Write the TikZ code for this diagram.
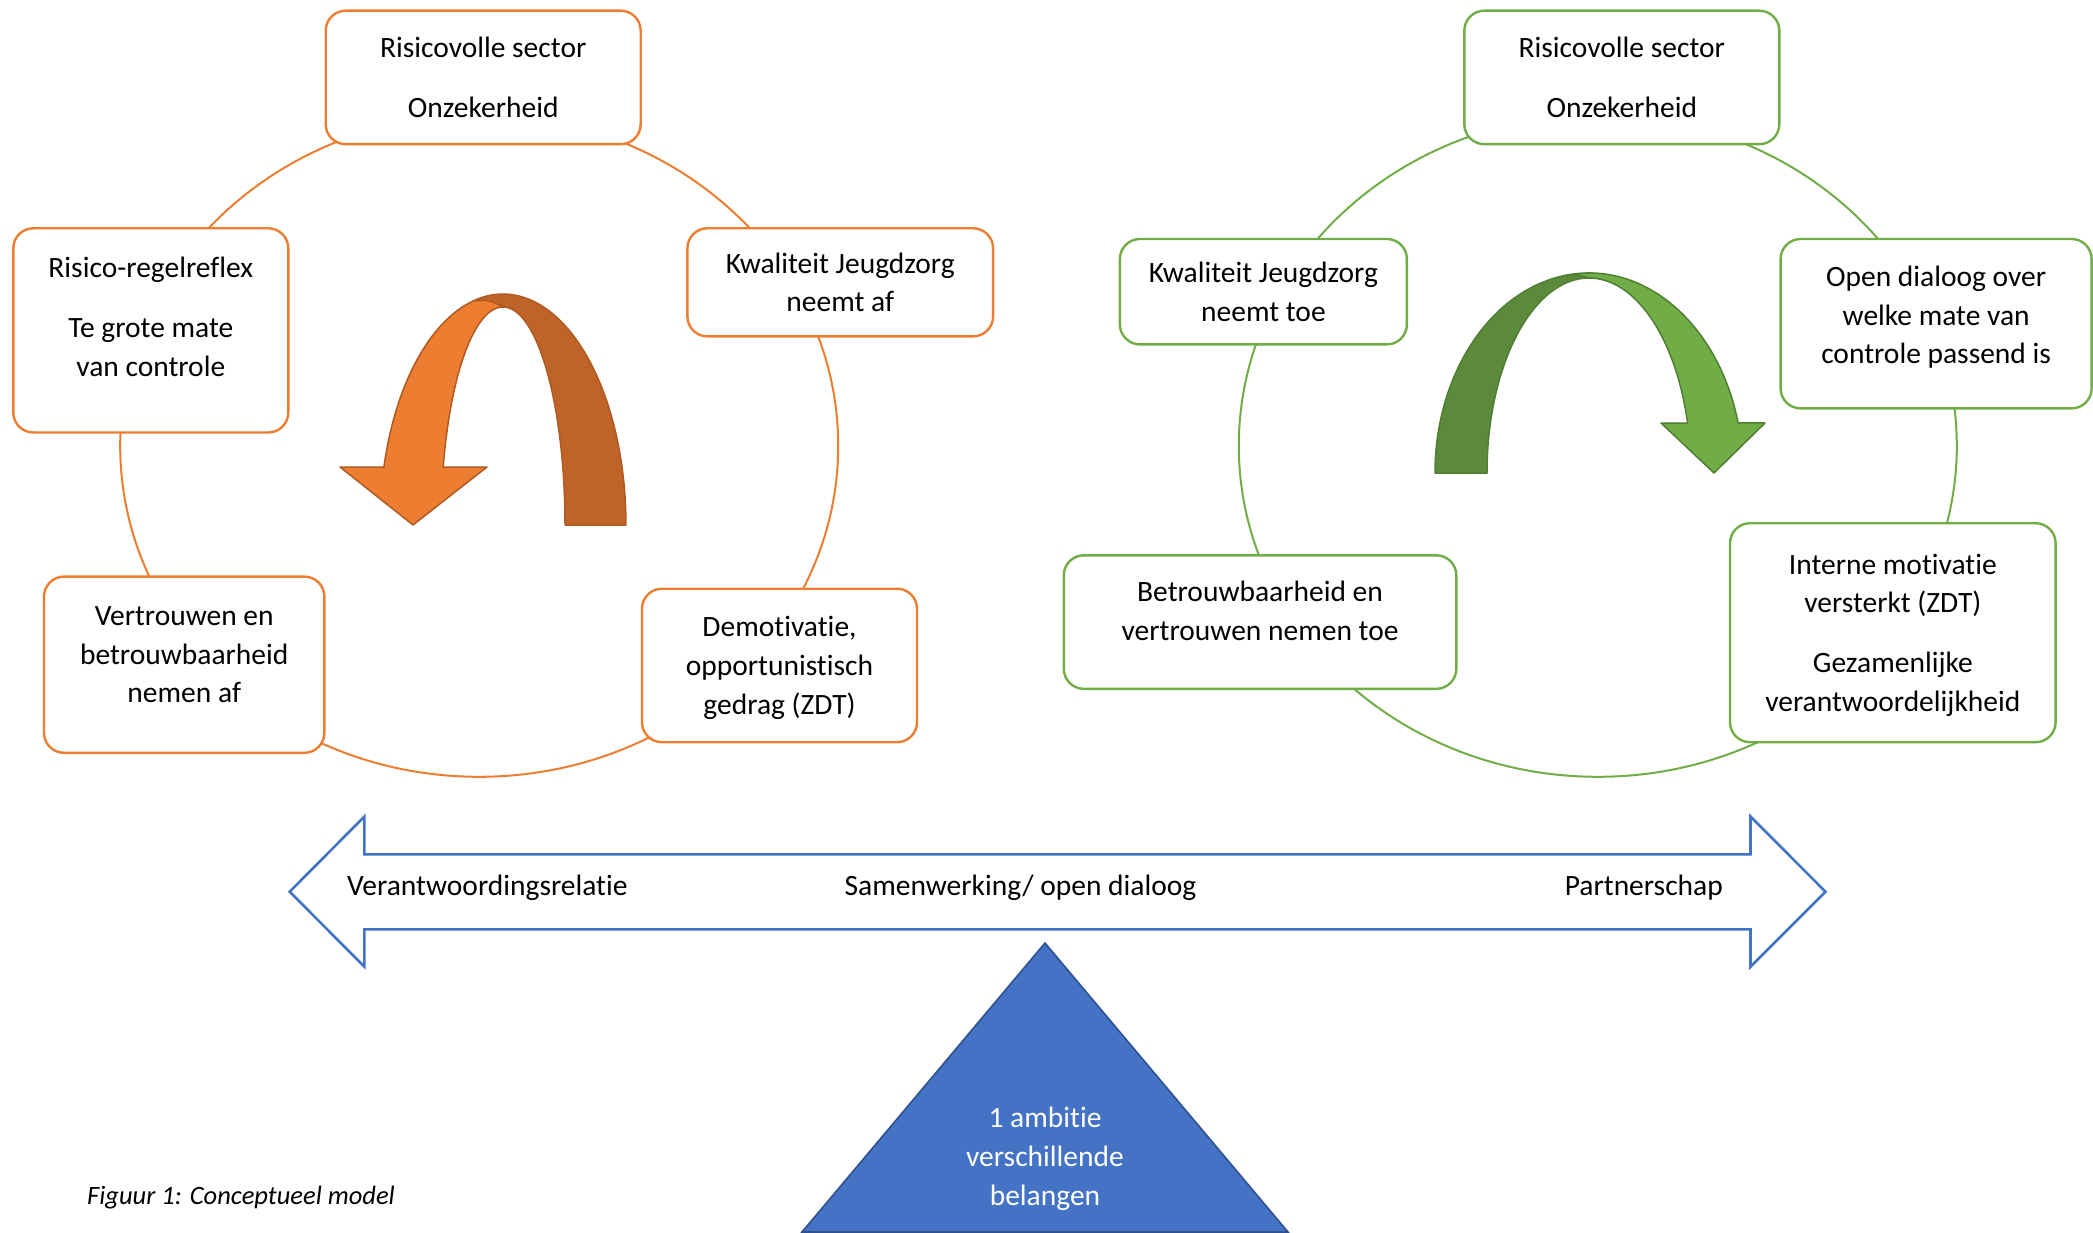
\documentclass[tikz,border=0pt]{standalone}
\usepackage{fontspec}
\setmainfont{Carlito}[Ligatures=NoCommon]
\definecolor{orangeC}{HTML}{ED7D31}
\definecolor{orangeD}{HTML}{BF6328}
\definecolor{orangeB}{HTML}{AE5A21}
\definecolor{greenC}{HTML}{70AD47}
\definecolor{greenD}{HTML}{5A8A3A}
\definecolor{greenB}{HTML}{507E32}
\definecolor{blueC}{HTML}{4472C4}
\definecolor{blueB}{HTML}{2F528F}
\tikzset{
  obox/.style={draw=orangeC, line width=2.4pt, fill=white, rounded corners=20pt, inner sep=0pt},
  gbox/.style={draw=greenC, line width=2.4pt, fill=white, rounded corners=20pt, inner sep=0pt},
  txt/.style={align=center, inner sep=0pt, yshift=-2.5pt, font=\fontsize{29.5pt}{38.7pt}\selectfont},
  ocycle/.style={draw=orangeC, line width=2pt},
  gcycle/.style={draw=greenC, line width=2pt},
  obandD/.style={fill=orangeD, draw=orangeB, line width=1.5pt, line join=round},
  obandL/.style={fill=orangeC, draw=orangeB, line width=1.5pt, line join=round},
  gbandD/.style={fill=greenD, draw=greenB, line width=1.5pt, line join=round},
  gbandL/.style={fill=greenC, draw=greenB, line width=1.5pt, line join=round},
  dblarrow/.style={draw=blueC, line width=2.6pt, fill=white, line join=miter},
}
\begin{document}
\begin{tikzpicture}[x=1pt,y=1pt]
\useasboundingbox (0,0) rectangle (2093,-1233);
% cycles
\coordinate (lc) at (479.2,-445.8);
\coordinate (rc) at (1597.8,-445.8);
\draw[ocycle] (lc) ellipse [x radius=359, y radius=331];
\draw[gcycle] (rc) ellipse [x radius=359, y radius=331];

% left boxes
\node[obox, minimum width=315pt, minimum height=133.5pt] (lt) at (483.2,-77.45) {};
\node[txt] (ltt) at (lt.center) {\strut Risicovolle sector\\[21.4pt]Onzekerheid\strut};
\node[obox, minimum width=275pt, minimum height=204.2pt] (lr) at (150.8,-330.4) {};
\node[txt] (lrt) at ([yshift=14pt]lr.center) {\strut Risico-regelreflex\\[21.4pt]Te grote mate\\van controle\strut};
\node[obox, minimum width=305.7pt, minimum height=108.1pt] (lk) at (840.25,-282.35) {};
\node[txt] (lkt) at (lk.center) {\strut Kwaliteit Jeugdzorg\\neemt af\strut};
\node[obox, minimum width=280.4pt, minimum height=176.2pt] (lv) at (184.2,-664.7) {};
\node[txt] (lvt) at ([yshift=10.7pt]lv.center) {\strut Vertrouwen en\\betrouwbaarheid\\nemen af\strut};
\node[obox, minimum width=275pt, minimum height=153.5pt] (ld) at (779.5,-665.45) {};
\node[txt] (ldt) at (ld.center) {\strut Demotivatie,\\opportunistisch\\gedrag (ZDT)\strut};

% right boxes
\node[gbox, minimum width=315pt, minimum height=133.5pt] (rt) at (1621.8,-77.45) {};
\node[txt] (rtt) at (rt.center) {\strut Risicovolle sector\\[21.4pt]Onzekerheid\strut};
\node[gbox, minimum width=287pt, minimum height=105.4pt] (rk) at (1263.4,-291.7) {};
\node[txt] (rkt) at (rk.center) {\strut Kwaliteit Jeugdzorg\\neemt toe\strut};
\node[gbox, minimum width=311pt, minimum height=169.4pt] (ro) at (1936.1,-323.7) {};
\node[txt] (rot) at ([yshift=8.7pt]ro.center) {\strut Open dialoog over\\welke mate van\\controle passend is\strut};
\node[gbox, minimum width=392.5pt, minimum height=133.5pt] (rb) at (1260.05,-622.05) {};
\node[txt] (rbt) at ([yshift=11.3pt]rb.center) {\strut Betrouwbaarheid en\\vertrouwen nemen toe\strut};
\node[gbox, minimum width=325.6pt, minimum height=219pt] (ri) at (1892.8,-632.7) {};
\node[txt] (rit) at (ri.center) {\strut Interne motivatie\\versterkt (ZDT)\\[21.4pt]Gezamenlijke\\verantwoordelijkheid\strut};

% orange curved arrow
\path[obandD] (473.2,-300.9) arc[start angle=104, end angle=0, x radius=123, y radius=231]
  -- (565,-525) arc[start angle=0, end angle=90, x radius=62, y radius=218]
  .. controls (490,-300) .. (473.2,-300.9) -- cycle;
\path[obandL] (473.2,-300.9) arc[start angle=104, end angle=165.5, x radius=123, y radius=231]
  -- (340,-467) -- (413,-525) -- (487,-467) -- (443.2,-467.1)
  arc[start angle=164.6, end angle=90, x radius=62, y radius=218]
  .. controls (490,-300) .. (473.2,-300.9) -- cycle;

% green curved arrow
\path[gbandD] (1435,-473) arc[start angle=180, end angle=100, x radius=154, y radius=200]
  .. controls (1576,-274) .. (1589,-278)
  arc[start angle=90, end angle=180, x radius=102, y radius=195] -- cycle;
\path[gbandL] (1562.3,-276) arc[start angle=100, end angle=14.48, x radius=154, y radius=200]
  -- (1765,-423) -- (1714,-473) -- (1661,-423) -- (1687.6,-423)
  arc[start angle=14.86, end angle=90, x radius=102, y radius=195]
  .. controls (1576,-274) .. (1562.3,-276) -- cycle;

% double arrow
\coordinate (dl) at (289.7,-891.7);
\coordinate (dr) at (1825.5,-891.7);
\draw[dblarrow] (dl) -- (364.4,-816.5) -- (364.4,-854.3) -- (1750.5,-854.3) -- (1750.5,-816.5)
  -- (dr) -- (1750.5,-966.7) -- (1750.5,-929.3) -- (364.4,-929.3) -- (364.4,-966.7) -- cycle;
\node[txt, anchor=west] (a1) at (347,-885) {\strut Verantwoordingsrelatie};
\node[txt] (a2) at (1020.5,-885) {\strut Samenwerking/ open dialoog};
\node[txt] (a3) at (1643.8,-885) {\strut Partnerschap};

% triangle
\coordinate (ta) at (1045,-943);
\coordinate (tl) at (802,-1232);
\coordinate (tr) at (1288,-1232);
\draw[fill=blueC, draw=blueB, line width=1.6pt, line join=miter] (ta) -- (tr) -- (tl) -- cycle;
\node[txt, text=white] (tt) at (1045,-1156.3) {\strut 1 ambitie\\verschillende\\belangen\strut};

% caption
\node[anchor=west, inner sep=0pt, yshift=-2pt, font=\fontsize{26.5pt}{34pt}\selectfont\itshape] (cap) at (87,-1196) {\strut Figuur 1: Conceptueel model};
\end{tikzpicture}
\end{document}
